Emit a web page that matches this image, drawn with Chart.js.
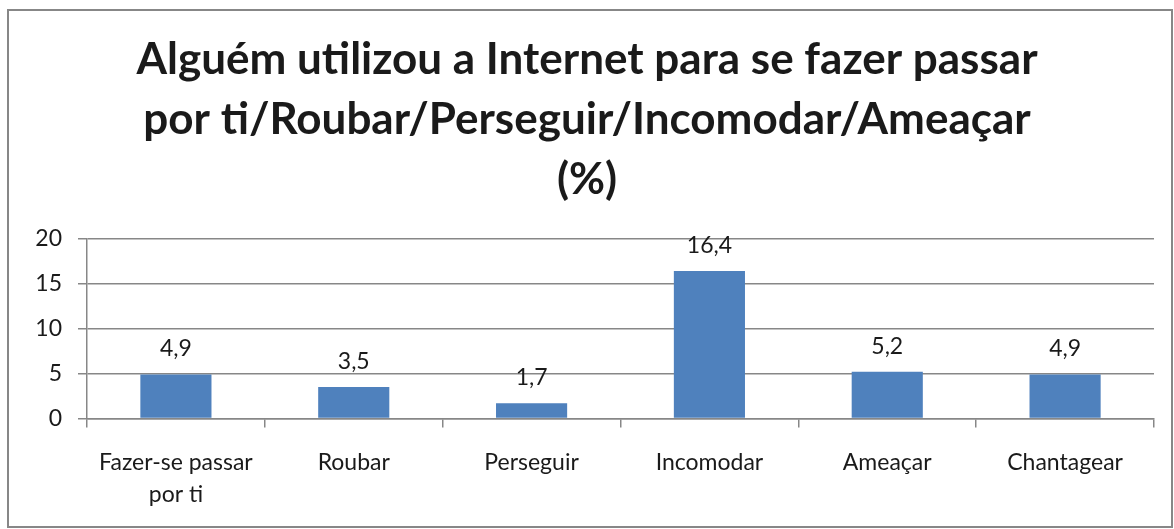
<!DOCTYPE html>
<html>
<head>
<meta charset="utf-8">
<script src="https://cdn.jsdelivr.net/npm/chart.js@4/dist/chart.umd.min.js"></script>
<style>
  html, body { margin: 0; padding: 0; background: #fff; }
  #wrap { width: 1174px; height: 529px; }
</style>
</head>
<body>
<div id="wrap"><canvas id="grafico" width="1174" height="529"></canvas></div>
<script>
// Données du graphique
const categorias = [["Fazer-se passar", "por ti"], "Roubar", "Perseguir", "Incomodar", "Ameaçar", "Chantagear"];
const valores = [4.9, 3.5, 1.7, 16.4, 5.2, 4.9];
const ticksY = [0, 5, 10, 15, 20];

const titulo = [
  "Alguém utilizou a Internet para se fazer passar",
  "por ti/Roubar/Perseguir/Incomodar/Ameaçar",
  "(%)",
];

const cinza = "#878787";
const police = "Lato, 'Open Sans', sans-serif";

// Cadre gris autour du graphique
const cadre = {
  id: "cadre",
  beforeDraw(chart) {
    const ctx = chart.ctx;
    ctx.save();
    ctx.fillStyle = "#fff";
    ctx.fillRect(0, 0, chart.width, chart.height);
    ctx.strokeStyle = cinza;
    ctx.lineWidth = 2;
    ctx.strokeRect(8, 10, 1164, 517);
    ctx.restore();
  },
};

// Étiquettes de valeurs au-dessus des barres
const etiquettes = {
  id: "etiquettes",
  afterDatasetsDraw(chart) {
    const ctx = chart.ctx;
    const meta = chart.getDatasetMeta(0);
    ctx.save();
    ctx.font = "23px " + police;
    ctx.fillStyle = "#1a1a1a";
    ctx.textAlign = "center";
    ctx.textBaseline = "alphabetic";
    meta.data.forEach((bar, i) => {
      const txt = String(valores[i]).replace(".", ",");
      ctx.fillText(txt, bar.x, bar.y - 18);
    });
    ctx.restore();
  },
};

const ctx = document.getElementById("grafico").getContext("2d");
const grafico = new Chart(ctx, {
  type: "bar",
  data: {
    labels: categorias,
    datasets: [
      {
        data: valores,
        backgroundColor: "#4F81BD",
        borderWidth: 0,
        categoryPercentage: 1,
        barPercentage: 0.4,
      },
    ],
  },
  options: {
    responsive: false,
    animation: false,
    layout: {
      padding: { top: 10, left: 20, right: 20, bottom: 0 },
    },
    plugins: {
      legend: { display: false },
      tooltip: { enabled: false },
      title: {
        display: true,
        text: titulo,
        color: "#1a1a1a",
        font: { family: police, size: 44, weight: "bold", lineHeight: 1.36 },
        padding: { top: 20, bottom: 29 },
      },
    },
    scales: {
      x: {
        grid: {
          offset: true,
          drawOnChartArea: false,
          drawTicks: true,
          tickLength: 9,
          color: cinza,
          lineWidth: 1.5,
        },
        border: { display: true, color: cinza, width: 1.5 },
        ticks: {
          color: "#1a1a1a",
          font: { family: police, size: 23, lineHeight: 1.38 },
          padding: 19,
          maxRotation: 0,
          autoSkip: false,
        },
      },
      y: {
        min: 0,
        max: 20,
        afterBuildTicks: (s) => {
          s.ticks = ticksY.map((v) => ({ value: v }));
        },
        afterFit: (s) => {
          s.width = 67;
        },
        grid: {
          color: cinza,
          lineWidth: 1.5,
          tickLength: 9,
        },
        border: { display: true, color: cinza, width: 1.5 },
        ticks: {
          color: "#1a1a1a",
          font: { family: police, size: 23 },
          padding: 16,
        },
      },
    },
  },
  plugins: [cadre, etiquettes],
});
</script>
</body>
</html>
